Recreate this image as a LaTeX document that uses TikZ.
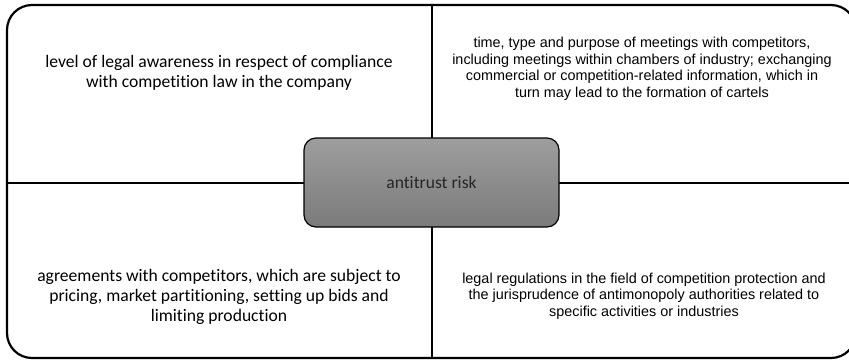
\documentclass[tikz,border=0pt]{standalone}
\usepackage{fontspec}
\setmainfont[Ligatures=NoCommon]{Carlito}
\newfontfamily\arialfont{Liberation Sans}
\usepackage{tikz}

\begin{document}
\begin{tikzpicture}[x=1pt,y=-1pt,
    frame/.style={line width=2.2pt, rounded corners=25pt},
    divider/.style={line width=2.2pt},
    calibritext/.style={align=center, font=\fontsize{17.6}{20}\selectfont},
    arialtext/.style={align=center, font=\arialfont\fontsize{14.4}{16.5}\selectfont},
    riskbox/.style={draw, line width=1.2pt, rounded corners=12pt,
        top color=black!38, bottom color=black!52,
        minimum width=255pt, minimum height=89pt, inner sep=0pt,
        text=black!85, font=\fontsize{17.6}{20}\selectfont}]
    \useasboundingbox (0,0) rectangle (849,360);
    \clip (0,0) rectangle (849,360);

    % Frame
    \coordinate (NW) at (7,5);
    \coordinate (SE) at (856,358);
    \coordinate (Ntop) at (432,5);
    \coordinate (Nbot) at (432,358);
    \coordinate (Wmid) at (7,183);
    \coordinate (Emid) at (856,183);
    \draw[frame] (NW) rectangle (SE);
    \draw[divider] (Ntop) -- (Nbot);
    \draw[divider] (Wmid) -- (Emid);

    % Nodes
    \node[riskbox] (risk) at (431.5,182.5) {antitrust risk};
    \node[calibritext] (awareness) at (219,73)
        {level of legal awareness in respect of compliance\\with competition law in the company};
    \node[arialtext] (meetings) at (642,69)
        {time, type and purpose of meetings with competitors,\\including meetings within chambers of industry; exchanging\\commercial or competition-related information, which in\\turn may lead to the formation of cartels};
    \node[calibritext] (agreements) at (219,297)
        {agreements with competitors, which are subject to\\pricing, market partitioning, setting up bids and\\limiting production};
    \node[arialtext] (regulations) at (644,296)
        {legal regulations in the field of competition protection and\\the jurisprudence of antimonopoly authorities related to\\specific activities or industries};
\end{tikzpicture}
\end{document}
